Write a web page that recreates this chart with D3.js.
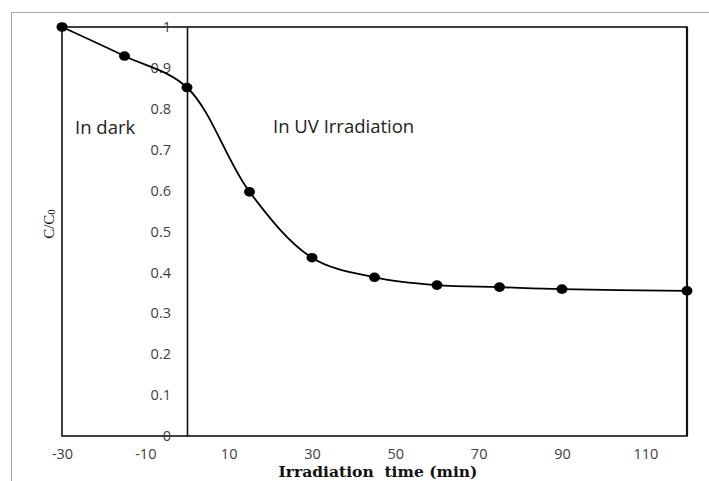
<!DOCTYPE html>
<html>
<head>
<meta charset="utf-8">
<script src="https://cdn.jsdelivr.net/npm/d3@7"></script>
<style>
  body { margin: 0; background: #fff; }
</style>
</head>
<body>
<div id="chart"></div>
<script>
// time (min) and C/C0 readings
const times = [-30, -15, 0, 15, 30, 45, 60, 75, 90, 120];
const ratios = [1.0, 0.929, 0.852, 0.597, 0.436, 0.388, 0.369, 0.364, 0.359, 0.355];
const xTicks = [-30, -10, 10, 30, 50, 70, 90, 110];
const yTicks = [0, 0.1, 0.2, 0.3, 0.4, 0.5, 0.6, 0.7, 0.8, 0.9, 1];

const width = 709, height = 481;
const margin = { top: 27, right: 22, bottom: 45, left: 62 };

const svg = d3.select("#chart")
    .append("svg")
    .attr("width", width)
    .attr("height", height);

// outer frame (gray, top + left only visible)
svg.append("rect")
    .attr("x", 11.5).attr("y", 12.5)
    .attr("width", 720).attr("height", 500)
    .attr("fill", "none")
    .attr("stroke", "#a6a6a6")
    .attr("stroke-width", 1);

const x = d3.scaleLinear().domain([-30, 120]).range([margin.left, width - margin.right]);
const y = d3.scaleLinear().domain([0, 1]).range([height - margin.bottom, margin.top]);

const data = times.map((t, i) => ({ t, v: ratios[i] }));

// plot box
svg.append("rect")
    .attr("x", x(-30)).attr("y", y(1))
    .attr("width", x(120) - x(-30))
    .attr("height", y(0) - y(1))
    .attr("fill", "none")
    .attr("stroke", "#111")
    .attr("stroke-width", 1.6);

// right edge a bit heavier
svg.append("line")
    .attr("x1", x(120)).attr("x2", x(120))
    .attr("y1", y(1)).attr("y2", y(0))
    .attr("stroke", "#111")
    .attr("stroke-width", 2.2);

const tickFont = "'Open Sans', sans-serif";

// y axis on x = 0
const yAxis = d3.axisLeft(y).tickValues(yTicks).tickSize(0).tickPadding(16)
    .tickFormat(d => d === 0 ? "0" : d === 1 ? "1" : d3.format(".1f")(d));
const gy = svg.append("g")
    .attr("transform", `translate(${x(0)},0)`)
    .call(yAxis);
gy.select(".domain").attr("stroke", "#111").attr("stroke-width", 1.6);
gy.selectAll("text")
    .style("font-family", tickFont)
    .style("font-size", "14.5px")
    .attr("fill", "#404040");

// x axis labels (plain hyphen for negatives)
const xAxis = d3.axisBottom(x).tickValues(xTicks).tickSize(0).tickPadding(13)
    .tickFormat(d => String(d));
const gx = svg.append("g")
    .attr("transform", `translate(0,${y(0)})`)
    .call(xAxis);
gx.select(".domain").remove();
gx.selectAll("text")
    .style("font-family", tickFont)
    .style("font-size", "14.5px")
    .attr("fill", "#404040");

// smoothed curve
const line = d3.line()
    .x(d => x(d.t))
    .y(d => y(d.v))
    .curve(d3.curveCatmullRom.alpha(0.5));

svg.append("path")
    .datum(data)
    .attr("d", line)
    .attr("fill", "none")
    .attr("stroke", "#000")
    .attr("stroke-width", 1.8);

svg.selectAll("ellipse.pt")
    .data(data)
    .join("ellipse")
    .attr("class", "pt")
    .attr("cx", d => x(d.t))
    .attr("cy", d => y(d.v))
    .attr("rx", 5.5)
    .attr("ry", 4.8)
    .attr("fill", "#000");

// annotations
svg.append("text")
    .attr("x", 75).attr("y", 134)
    .text("In dark")
    .style("font-family", tickFont)
    .style("font-size", "18.5px")
    .attr("fill", "#222");

svg.append("text")
    .attr("x", 273).attr("y", 133)
    .text("In UV Irradiation")
    .style("font-family", tickFont)
    .style("font-size", "18.5px")
    .attr("fill", "#222");

// axis titles
svg.append("text")
    .attr("x", 378).attr("y", 477)
    .attr("text-anchor", "middle")
    .text("Irradiation  time (min)")
    .style("font-family", "'DejaVu Serif', serif")
    .style("font-weight", "bold")
    .style("font-size", "15.5px")
    .style("white-space", "pre")
    .attr("fill", "#111");

const yt = svg.append("text")
    .attr("transform", "translate(54,224) rotate(-90)")
    .attr("text-anchor", "middle")
    .style("font-family", "'Liberation Serif', serif")
    .style("font-size", "15px")
    .attr("fill", "#111");
yt.append("tspan").text("C/C");
yt.append("tspan").attr("font-size", "11px").attr("dy", 1).text("0");
</script>
</body>
</html>
